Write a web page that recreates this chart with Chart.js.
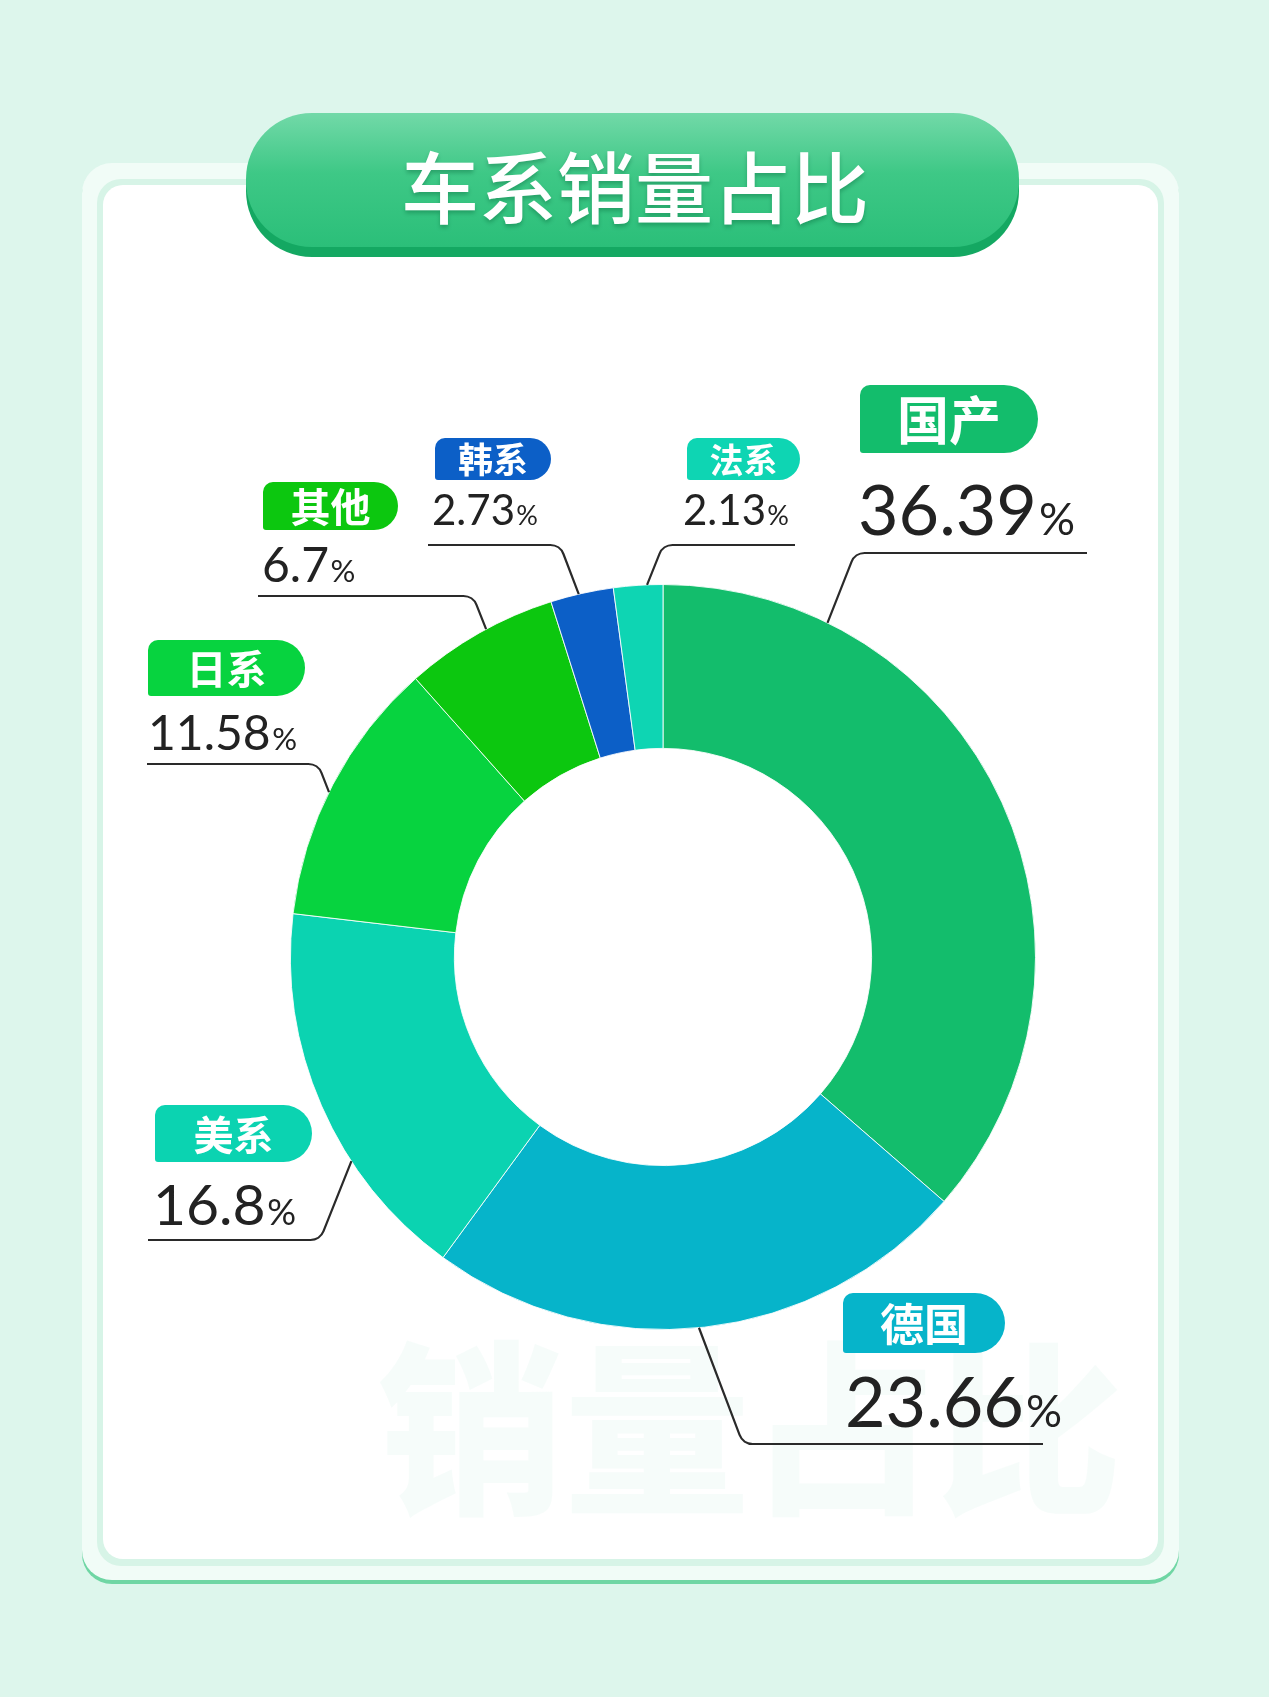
<!DOCTYPE html>
<html>
<head>
<meta charset="utf-8">
<script src="https://cdn.jsdelivr.net/npm/chart.js@4.4.1/dist/chart.umd.min.js"></script>
<style>
  html, body { margin: 0; padding: 0; background: #ddf6ec; }
  canvas { display: block; }
</style>
</head>
<body>
<canvas id="donut" width="1269" height="1697"></canvas>
<script>
(function () {
    "use strict";

    // data, clockwise from 12 o'clock
    var categories = ['国产', '德国', '美系', '日系', '其他', '韩系', '法系'];
    var shares = [36.39, 23.66, 16.8, 11.58, 6.7, 2.73, 2.13];
    var sliceColors = ['#13bd6c', '#06b4ca', '#0bd3b1', '#07d33f', '#0cc70f', '#0c5fc7', '#0ed5b3'];
    var chartTitle = '车系销量占比';
    var watermark = '销量占比';

    // callout placement (t = where along the slice the leader starts)
    var callouts = [
        {t: 0.20, ex: 855, ey: 553, end: 1087, pill: [860, 385, 178, 68], pf: 52, vx: 858, vy: 535, vf: 70},
        {t: 0.51, ex: 743, ey: 1444, end: 1043, pill: [843, 1293, 162, 60], pf: 44, vx: 845, vy: 1427, vf: 70},
        {t: 0.34, ex: 320, ey: 1240, end: 148, pill: [155, 1105, 157, 57], pf: 40, vx: 153, vy: 1225, vf: 57},
        {t: 0.47, ex: 318, ey: 764, end: 147, pill: [148, 640, 157, 56], pf: 40, vx: 148, vy: 750, vf: 48},
        {t: 0.55, ex: 473, ey: 596, end: 258, pill: [263, 482, 135, 48], pf: 40, vx: 262, vy: 582, vf: 48},
        {t: 0.45, ex: 560, ey: 545, end: 428, pill: [435, 438, 116, 42], pf: 35, vx: 432, vy: 525, vf: 42},
        {t: 0.68, ex: 663, ey: 545, end: 795, pill: [687, 438, 113, 42], pf: 34, vx: 683, vy: 525, vf: 42}
    ];

    var CJK = '"Noto Sans CJK SC", "Noto Sans", sans-serif';
    var NUM = 'Lato, "Open Sans", sans-serif';

    function rrect(ctx, x, y, w, h, r) {
        ctx.beginPath();
        ctx.moveTo(x + r, y);
        ctx.lineTo(x + w - r, y);
        ctx.arcTo(x + w, y, x + w, y + r, r);
        ctx.lineTo(x + w, y + h - r);
        ctx.arcTo(x + w, y + h, x + w - r, y + h, r);
        ctx.lineTo(x + r, y + h);
        ctx.arcTo(x, y + h, x, y + h - r, r);
        ctx.lineTo(x, y + r);
        ctx.arcTo(x, y, x + r, y, r);
        ctx.closePath();
    }

    function tagShape(ctx, x, y, w, h) {
        var r = h / 2, tl = 10, bl = 3;
        ctx.beginPath();
        ctx.moveTo(x + tl, y);
        ctx.lineTo(x + w - r, y);
        ctx.arc(x + w - r, y + r, r, -Math.PI / 2, Math.PI / 2);
        ctx.lineTo(x + bl, y + h);
        ctx.arcTo(x, y + h, x, y + h - bl, bl);
        ctx.lineTo(x, y + tl);
        ctx.arcTo(x, y, x + tl, y, tl);
        ctx.closePath();
    }

    var backdrop = {
        id: 'backdrop',
        beforeDraw: function (chart) {
            var ctx = chart.ctx;
            ctx.save();
            ctx.fillStyle = '#ddf6ec';
            ctx.fillRect(0, 0, chart.width, chart.height);

            // outer card with green bottom edge
            ctx.fillStyle = '#6fd6a4';
            rrect(ctx, 82, 166, 1097, 1418, 30);
            ctx.fill();
            ctx.fillStyle = '#f1fcf7';
            rrect(ctx, 82, 163, 1097, 1417, 30);
            ctx.fill();

            // inner white card
            ctx.fillStyle = '#d7f4e7';
            rrect(ctx, 97, 179, 1067, 1387, 24);
            ctx.fill();
            ctx.fillStyle = '#ffffff';
            rrect(ctx, 103, 185, 1055, 1374, 20);
            ctx.fill();

            // faint watermark
            ctx.fillStyle = 'rgba(214, 243, 230, 0.22)';
            ctx.font = '900 186px ' + CJK;
            ctx.textAlign = 'left';
            ctx.textBaseline = 'alphabetic';
            ctx.fillText(watermark, 378, 1500);

            // title button
            ctx.fillStyle = '#14a862';
            rrect(ctx, 246, 122, 773, 135, 66);
            ctx.fill();
            var g = ctx.createLinearGradient(0, 113, 0, 247);
            g.addColorStop(0, '#72d9a8');
            g.addColorStop(0.45, '#3ec886');
            g.addColorStop(1, '#2bbf79');
            ctx.fillStyle = g;
            rrect(ctx, 246, 113, 773, 134, 66);
            ctx.fill();

            ctx.shadowColor = 'rgba(0, 90, 50, 0.35)';
            ctx.shadowOffsetY = 3;
            ctx.shadowBlur = 4;
            ctx.fillStyle = '#ffffff';
            ctx.font = '500 78px ' + CJK;
            ctx.textAlign = 'center';
            ctx.textBaseline = 'middle';
            ctx.fillText(chartTitle, 635, 188);
            ctx.restore();
        }
    };

    var calloutPlugin = {
        id: 'callouts',
        afterDatasetsDraw: function (chart) {
            var ctx = chart.ctx;
            var arcs = chart.getDatasetMeta(0).data;
            ctx.save();
            arcs.forEach(function (arc, i) {
                var c = callouts[i];
                var a = arc.startAngle + c.t * (arc.endAngle - arc.startAngle);
                var ax = arc.x + Math.cos(a) * arc.outerRadius;
                var ay = arc.y + Math.sin(a) * arc.outerRadius;

                // leader
                ctx.strokeStyle = '#2a2a2a';
                ctx.lineWidth = 2.2;
                ctx.beginPath();
                ctx.moveTo(ax, ay);
                ctx.arcTo(c.ex, c.ey, c.end, c.ey, 14);
                ctx.lineTo(c.end, c.ey);
                ctx.stroke();

                // name tag
                var p = c.pill;
                ctx.fillStyle = sliceColors[i];
                tagShape(ctx, p[0], p[1], p[2], p[3]);
                ctx.fill();
                ctx.fillStyle = '#ffffff';
                ctx.font = '700 ' + c.pf + 'px ' + CJK;
                ctx.textAlign = 'center';
                ctx.textBaseline = 'middle';
                ctx.fillText(categories[i], p[0] + p[2] / 2, p[1] + p[3] / 2 + 1);

                // value
                var txt = String(shares[i]);
                ctx.fillStyle = '#222222';
                ctx.textAlign = 'left';
                ctx.textBaseline = 'alphabetic';
                ctx.font = '400 ' + c.vf + 'px ' + NUM;
                ctx.fillText(txt, c.vx, c.vy);
                var w = ctx.measureText(txt).width;
                ctx.font = '400 ' + Math.round(c.vf * 0.64) + 'px ' + NUM;
                ctx.fillText('%', c.vx + w + c.vf * 0.03, c.vy);
            });
            ctx.restore();
        }
    };

    var ctx = document.getElementById('donut');
    new Chart(ctx, {
        type: 'doughnut',
        data: {
            labels: categories,
            datasets: [{
                data: shares,
                backgroundColor: sliceColors,
                borderColor: 'rgba(255,255,255,0.85)',
                borderWidth: 1
            }]
        },
        options: {
            responsive: false,
            animation: false,
            cutout: '56%',
            layout: {
                padding: {left: 290, right: 233, top: 584, bottom: 367}
            },
            plugins: {
                legend: {display: false},
                tooltip: {enabled: false}
            }
        },
        plugins: [backdrop, calloutPlugin]
    });
})();
</script>
</body>
</html>
